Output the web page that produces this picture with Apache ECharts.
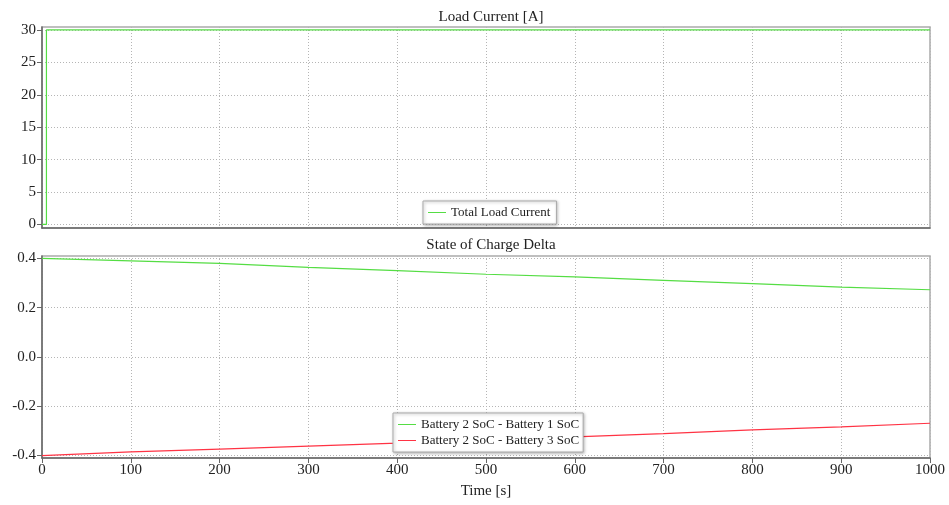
<!DOCTYPE html>
<html>
<head>
<meta charset="utf-8">
<script src="https://cdn.jsdelivr.net/npm/echarts@6/dist/echarts.min.js"></script>
<style>html,body{margin:0;padding:0;background:#fff;}#c{width:949px;height:505px;}</style>
</head>
<body>
<div id="c"></div>
<script>
const loadTimes = [0, 5, 5, 1000];
const loadValues = [0, 0, 30, 30];
const socTimes = [0, 100, 200, 300, 400, 500, 600, 700, 800, 900, 1000];
const soc21 = [0.400, 0.390, 0.380, 0.364, 0.351, 0.336, 0.325, 0.311, 0.298, 0.284, 0.273];
const soc23 = [-0.400, -0.385, -0.374, -0.362, -0.350, -0.337, -0.324, -0.311, -0.296, -0.284, -0.269];
const loadTicks = [0, 5, 10, 15, 20, 25, 30];
const socTicks = [-0.4, -0.2, 0.0, 0.2, 0.4];

const FONT = '"Liberation Serif", "DejaVu Serif", serif';
const gridLine = { show: true, lineStyle: { color: '#b5b5b5', type: [1, 2], width: 1 } };
const axisLineStyle = { show: true, onZero: false, lineStyle: { color: '#666', width: 1.5 } };

const chart = echarts.init(document.getElementById('c'));
chart.setOption({
  animation: false,
  backgroundColor: '#fff',
  textStyle: { fontFamily: FONT },
  title: [
    { text: 'Load Current [A]', left: 486, top: 5, textAlign: 'center', textStyle: { fontFamily: FONT, fontSize: 15, fontWeight: 'normal', color: '#222' } },
    { text: 'State of Charge Delta', left: 486, top: 233, textAlign: 'center', textStyle: { fontFamily: FONT, fontSize: 15, fontWeight: 'normal', color: '#222' } }
  ],
  grid: [
    { left: 42, right: 19, top: 27, height: 201, show: true, borderColor: '#aaa', borderWidth: 1.5 },
    { left: 42, right: 19, top: 256, height: 202, show: true, borderColor: '#aaa', borderWidth: 1.5 }
  ],
  legend: [
    { data: ['Total Load Current'], left: 423, top: 201, orient: 'vertical', itemWidth: 18, itemHeight: 1, padding: [5, 6, 5, 5],
      backgroundColor: '#fff', borderColor: '#aaa', borderWidth: 1, shadowColor: 'rgba(0,0,0,0.3)', shadowBlur: 3, shadowOffsetX: 1, shadowOffsetY: 1,
      textStyle: { fontFamily: FONT, fontSize: 13, color: '#222' }, icon: 'rect' },
    { data: ['Battery 2 SoC - Battery 1 SoC', 'Battery 2 SoC - Battery 3 SoC'], left: 393, top: 413, orient: 'vertical', itemGap: 3, itemWidth: 18, itemHeight: 1, padding: [5, 4, 5, 5],
      backgroundColor: '#fff', borderColor: '#aaa', borderWidth: 1, shadowColor: 'rgba(0,0,0,0.3)', shadowBlur: 3, shadowOffsetX: 1, shadowOffsetY: 1,
      textStyle: { fontFamily: FONT, fontSize: 13, color: '#222' }, icon: 'rect' }
  ],
  xAxis: [
    { gridIndex: 0, type: 'value', min: 0, max: 1000, interval: 100, axisLine: axisLineStyle, axisTick: { show: false }, axisLabel: { show: false }, splitLine: gridLine },
    { gridIndex: 1, type: 'value', min: 0, max: 1000, interval: 100, name: 'Time [s]', nameLocation: 'middle', nameGap: 26,
      nameTextStyle: { fontFamily: FONT, fontSize: 15, color: '#222' },
      axisLine: axisLineStyle, axisTick: { show: true, inside: false, length: 5, lineStyle: { color: '#666' } },
      axisLabel: { fontFamily: FONT, fontSize: 15, color: '#222', margin: 5, formatter: v => String(v) }, splitLine: gridLine }
  ],
  yAxis: [
    { gridIndex: 0, type: 'value', min: -0.55, max: 30.45,
      axisLine: axisLineStyle, axisTick: { show: true, length: 5, customValues: loadTicks, lineStyle: { color: '#666' } },
      axisLabel: { customValues: loadTicks, fontFamily: FONT, fontSize: 15, color: '#222', margin: 6 },
      splitLine: Object.assign({ customValues: loadTicks }, gridLine) },
    { gridIndex: 1, type: 'value', min: -0.41, max: 0.41,
      axisLine: axisLineStyle, axisTick: { show: true, length: 5, customValues: socTicks, lineStyle: { color: '#666' } },
      axisLabel: { customValues: socTicks, fontFamily: FONT, fontSize: 15, color: '#222', margin: 6, formatter: v => v.toFixed(1) },
      splitLine: Object.assign({ customValues: socTicks }, gridLine) }
  ],
  series: [
    { name: 'Total Load Current', type: 'line', xAxisIndex: 0, yAxisIndex: 0, symbol: 'none', color: '#55dd44',
      lineStyle: { width: 1.2, color: '#55dd44' }, data: loadTimes.map((t, i) => [t, loadValues[i]]) },
    { name: 'Battery 2 SoC - Battery 1 SoC', type: 'line', xAxisIndex: 1, yAxisIndex: 1, symbol: 'none', color: '#55dd44',
      lineStyle: { width: 1.2, color: '#55dd44' }, data: socTimes.map((t, i) => [t, soc21[i]]) },
    { name: 'Battery 2 SoC - Battery 3 SoC', type: 'line', xAxisIndex: 1, yAxisIndex: 1, symbol: 'none', color: '#ff3344',
      lineStyle: { width: 1.2, color: '#ff3344' }, data: socTimes.map((t, i) => [t, soc23[i]]) }
  ]
});
</script>
</body>
</html>
